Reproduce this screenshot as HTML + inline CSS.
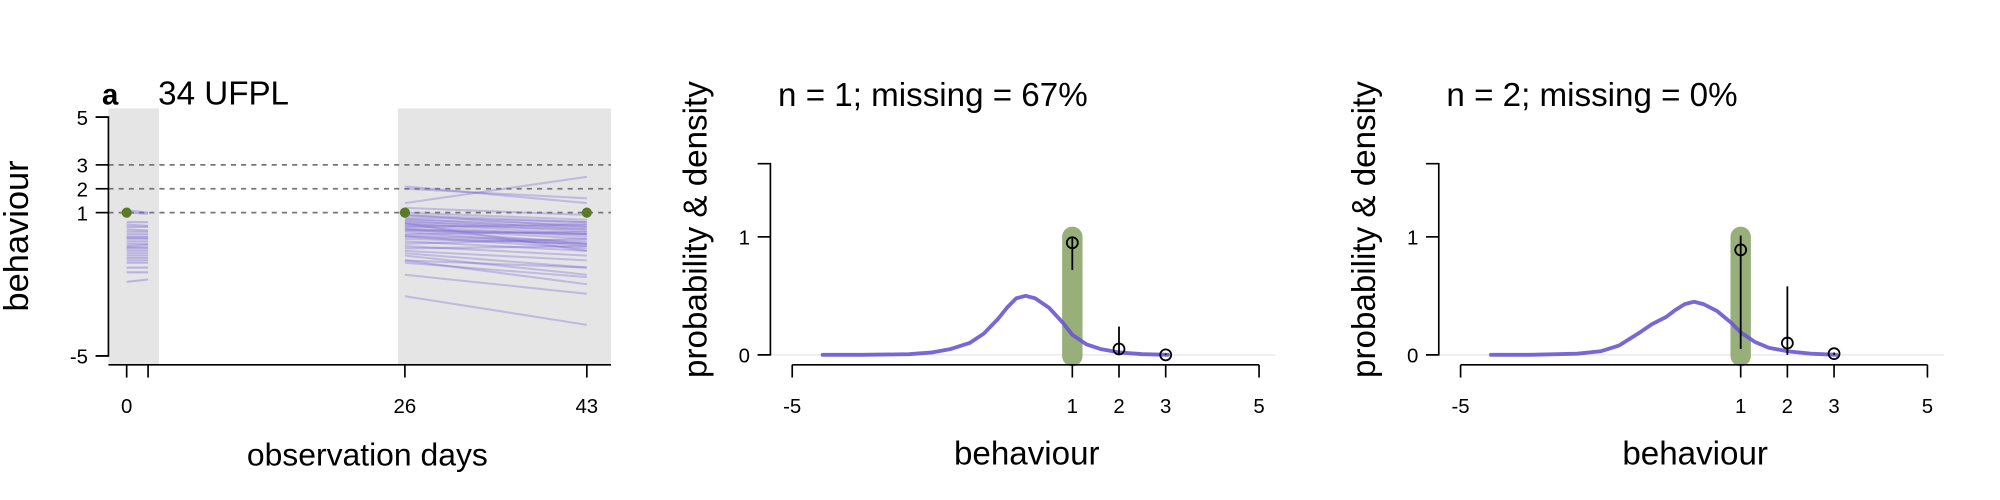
<!DOCTYPE html>
<html><head><meta charset="utf-8"><style>
html,body{margin:0;padding:0;background:#fff;}
svg{display:block;font-family:"Liberation Sans",Arial,sans-serif;}
</style></head><body>
<svg id="chart" width="2000" height="500" viewBox="0 0 1568 392" xmlns="http://www.w3.org/2000/svg"></svg>
<script>
// ---- data ----
const p1YTicks = [5, 3, 2, 1, -5];
const p1XTicks = [0, 26, 43];
const dashLevels = [3, 2, 1];
const obsDays = [0, 26, 43];
const obsValues = [1, 1, 1];
const win1Start = [1.1, 1.0, 0.6, 0.5, 0.4, 0.3, 0.2, 0.1, 0.0, -0.05, -0.1, -0.2, -0.3, -0.4, -0.45, -0.5, -0.6, -0.7, -0.8, -0.9, -1.0, -1.1, -1.3, -1.5, -1.9];
const win1End = [1.0, 0.95, 0.6, 0.45, 0.4, 0.25, 0.2, 0.1, 0.0, -0.05, -0.1, -0.2, -0.3, -0.35, -0.45, -0.5, -0.6, -0.7, -0.8, -0.9, -1.0, -1.1, -1.3, -1.5, -1.8];
const win2Start = [2.1, 2.0, 1.4, 1.2, 1.0, 0.9, 0.8, 0.75, 0.7, 0.65, 0.6, 0.55, 0.5, 0.45, 0.4, 0.35, 0.3, 0.25, 0.2, 0.1, 0.05, 0.0, -0.1, -0.2, -0.3, -0.4, -0.5, -0.6, -0.7, -0.8, -1.0, -1.0, -1.1, -1.6, -2.5, 0.9, 0.55, 0.3, 0.0];
const win2End = [1.4, 1.6, 2.5, 0.9, 0.7, 0.4, 0.6, 0.3, 0.5, 0.2, 0.4, 0.1, 0.3, 0.0, 0.5, -0.1, -0.3, 0.1, -0.4, 0.2, -0.2, -0.5, -0.3, -0.6, -0.1, -0.8, -0.4, -1.0, -1.3, -1.6, -2.0, -1.3, -1.7, -2.4, -3.7, 0.6, -0.6, 0.1, -0.3];
const p2XTicks = [-5, 1, 2, 3, 5];
const p2YTicks = [0, 1];
const densX = [-4.35, -3.5, -2.5, -2.0, -1.6, -1.2, -0.9, -0.6, -0.4, -0.2, 0.0, 0.2, 0.5, 0.8, 1.0, 1.3, 1.6, 2.0, 2.5, 3.05];
const densA = [0, 0, 0.005, 0.02, 0.05, 0.1, 0.18, 0.3, 0.4, 0.48, 0.5, 0.48, 0.4, 0.27, 0.17, 0.09, 0.05, 0.02, 0.005, 0];
const densB = [0, 0, 0.01, 0.03, 0.08, 0.18, 0.26, 0.32, 0.38, 0.43, 0.45, 0.43, 0.37, 0.27, 0.19, 0.11, 0.06, 0.03, 0.01, 0];
const catX = [1, 2, 3];
const probA = [0.95, 0.05, 0.0];
const loA = [0.72, 0.0, 0.0];
const hiA = [1.0, 0.24, 0.01];
const probB = [0.89, 0.1, 0.01];
const loB = [0.05, 0.0, 0.0];
const hiB = [1.01, 0.58, 0.02];

const svg = document.getElementById('chart');
const NS = 'http://www.w3.org/2000/svg';
function mk(tag, attrs, parent, text) {
  const e = document.createElementNS(NS, tag);
  for (const k in attrs) e.setAttribute(k, attrs[k]);
  if (text !== undefined) e.textContent = text;
  (parent || svg).appendChild(e);
  return e;
}

// ---- panel 1 ----
const X1 = d => 99.3 + d * 8.39;
const Y1 = v => 166.7 - (v - 1) * 18.72;
const g1 = mk('g', {});


let r = mk('rect', {x: 85, y: 85, width: 39.6, height: 201, fill: '#e5e5e5'}, g1);


r = mk('rect', {x: 312, y: 85, width: 167, height: 201, fill: '#e5e5e5'}, g1);


dashLevels.forEach(v => {
  const l = mk('line', {x1: 85, x2: 479, y1: Y1(v), y2: Y1(v), stroke: '#777', 'stroke-width': 1.3, 'stroke-dasharray': '4,4'}, g1);
  
  
});
win1Start.forEach((v, i) => {
  const l = mk('line', {x1: X1(0), x2: X1(2), y1: Y1(v), y2: Y1(win1End[i]), stroke: '#7b68d8', 'stroke-width': 1.6, 'stroke-opacity': 0.4}, g1);
  
  
});
win2Start.forEach((v, i) => {
  const l = mk('line', {x1: X1(26), x2: X1(43), y1: Y1(v), y2: Y1(win2End[i]), stroke: '#7b68d8', 'stroke-width': 1.6, 'stroke-opacity': 0.35}, g1);
  
  
});
obsDays.forEach((d, i) => {
  const c = mk('circle', {cx: X1(d), cy: Y1(obsValues[i]), r: 4, fill: '#5a7a2a'}, g1);
  
  
});
let ax = mk('path', {d: `M75 ${Y1(5)} H85 V${Y1(-5)} H75`, fill: 'none', stroke: '#000', 'stroke-width': 1.3}, g1);


p1YTicks.forEach(v => {
  mk('line', {x1: 75, x2: 85, y1: Y1(v), y2: Y1(v), stroke: '#000', 'stroke-width': 1.3}, g1);
  const t = mk('text', {x: 69, y: Y1(v) + 6, 'text-anchor': 'end', 'font-size': 16}, g1, String(v));
  
  
});
ax = mk('line', {x1: 85, x2: 479, y1: 286, y2: 286, stroke: '#000', 'stroke-width': 1.3}, g1);


[0, 2, 26, 43].forEach(d => mk('line', {x1: X1(d), x2: X1(d), y1: 286, y2: 296, stroke: '#000', 'stroke-width': 1.3}, g1));
p1XTicks.forEach(d => {
  const t = mk('text', {x: X1(d), y: 324, 'text-anchor': 'middle', 'font-size': 16}, g1, String(d));
  
  
});
let t = mk('text', {x: 288, y: 365, 'text-anchor': 'middle', 'font-size': 25}, g1, 'observation days');


t = mk('text', {x: 0, y: 0, 'text-anchor': 'middle', 'font-size': 27, transform: 'translate(22,185) rotate(-90)'}, g1, 'behaviour');


t = mk('text', {x: 80, y: 82, 'font-size': 23, 'font-weight': 'bold'}, g1, 'a');


t = mk('text', {x: 124, y: 82, 'font-size': 26}, g1, '34 UFPL');



// ---- density panels ----
function densPanel(off, title, dens, prob, lo, hi, name) {
  const X = v => off + 840.7 + (v - 1) * 36.6;
  const Y = p => 278.2 - p * 92.5;
  const g = mk('g', {});
  
  
  const grid = mk('line', {x1: off + 604, x2: off + 1000, y1: Y(0), y2: Y(0), stroke: '#e6e6e6', 'stroke-width': 1}, g);
  
  
  const bar = mk('line', {x1: X(1), x2: X(1), y1: Y(1.0), y2: Y(-0.01), stroke: '#8fa86f', 'stroke-opacity': 0.92, 'stroke-width': 16, 'stroke-linecap': 'round'}, g);
  
  
  const d = densX.map((x, i) => (i ? 'L' : 'M') + X(x).toFixed(1) + ' ' + Y(dens[i]).toFixed(1)).join(' ');
  const pth = mk('path', {d: d, fill: 'none', stroke: '#6a56d0', 'stroke-opacity': 0.9, 'stroke-width': 3, 'stroke-linejoin': 'round', 'stroke-linecap': 'round'}, g);
  
  
  catX.forEach((c, i) => {
    const e = mk('line', {x1: X(c), x2: X(c), y1: Y(lo[i]), y2: Y(hi[i]), stroke: '#000', 'stroke-width': 1.4}, g);
    
    
    const p = mk('circle', {cx: X(c), cy: Y(prob[i]), r: 4.3, fill: 'none', stroke: '#000', 'stroke-width': 1.4}, g);
    
    
  });
  const ya = mk('path', {d: `M${off + 594} ${Y(1.62)} H${off + 604} V${Y(0)} H${off + 594}`, fill: 'none', stroke: '#000', 'stroke-width': 1.3}, g);
  
  
  p2YTicks.forEach(v => {
    mk('line', {x1: off + 594, x2: off + 604, y1: Y(v), y2: Y(v), stroke: '#000', 'stroke-width': 1.3}, g);
    const tt = mk('text', {x: off + 588, y: Y(v) + 6, 'text-anchor': 'end', 'font-size': 16}, g, String(v));
    
    
  });
  const xa = mk('line', {x1: X(-5), x2: X(5), y1: 286, y2: 286, stroke: '#000', 'stroke-width': 1.3}, g);
  
  
  p2XTicks.forEach(v => {
    mk('line', {x1: X(v), x2: X(v), y1: 286, y2: 296, stroke: '#000', 'stroke-width': 1.3}, g);
    const tt = mk('text', {x: X(v), y: 324, 'text-anchor': 'middle', 'font-size': 16}, g, String(v));
    
    
  });
  let tt = mk('text', {x: off + 805, y: 364, 'text-anchor': 'middle', 'font-size': 26}, g, 'behaviour');
  
  
  tt = mk('text', {x: 0, y: 0, 'text-anchor': 'middle', 'font-size': 26, transform: `translate(${off + 554},180) rotate(-90)`}, g, 'probability & density');
  
  
  tt = mk('text', {x: off + 610, y: 83, 'font-size': 26}, g, title);
  
  
}
densPanel(0, 'n = 1; missing = 67%', densA, probA, loA, hiA, 'panel-n1');
densPanel(524, 'n = 2; missing = 0%', densB, probB, loB, hiB, 'panel-n2');
</script>
</body></html>
